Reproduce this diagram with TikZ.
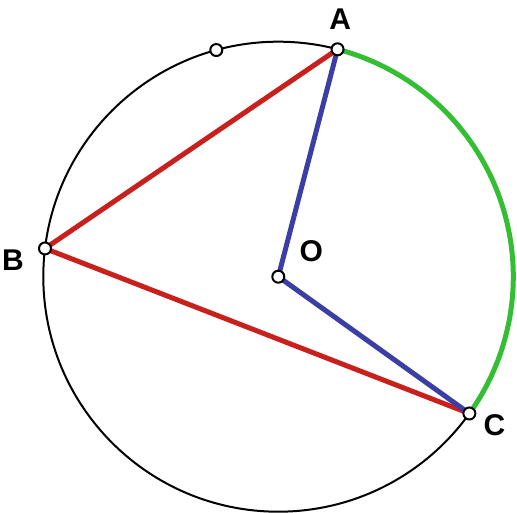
\documentclass[tikz,border=0pt]{standalone}
\usepackage{fontspec}
\setmainfont{Liberation Sans}
\definecolor{chordred}{RGB}{200,32,28}
\definecolor{radblue}{RGB}{58,62,165}
\definecolor{arcgreen}{RGB}{52,190,52}
\begin{document}
\begin{tikzpicture}[x=1pt, y=1pt,
		chord/.style={chordred, line width=5pt},
		radial/.style={radblue, line width=5pt},
		bigarc/.style={arcgreen, line width=5pt},
		dot/.style={circle, draw, fill=white, line width=2pt, inner sep=0pt, minimum size=12pt},
		lbl/.style={inner sep=0pt, font=\fontsize{30}{30}\selectfont\bfseries}]
	\useasboundingbox (0,0) rectangle (517,513);
	\coordinate (O) at (278.3, 236.3);
	\path (O) ++(75.4:235) coordinate (A);
	\path (O) ++(173.1:235) coordinate (B);
	\path (O) ++(-35.6:235) coordinate (C);
	\path (O) ++(105.3:235) coordinate (M);

	\draw[line width=2pt] (O) circle (235);
	\draw[bigarc] (A) arc[start angle=75.4, end angle=-35.6, radius=235];
	\draw[chord] (B) -- (A);
	\draw[chord] (B) -- (C);
	\draw[radial] (O) -- (A);
	\draw[radial] (O) -- (C);

	\node[dot] (dotA) at (A) {};
	\node[dot] (dotB) at (B) {};
	\node[dot] (dotC) at (C) {};
	\node[dot] (dotO) at (O) {};
	\node[dot] (dotM) at (M) {};

	\path (A) ++(2.7, 29.7) node[lbl] (labA) {A};
	\path (B) ++(-32, -11.7) node[lbl] (labB) {B};
	\path (C) ++(25, -12) node[lbl] (labC) {C};
	\path (O) ++(33, 25.7) node[lbl] (labO) {O};
\end{tikzpicture}
\end{document}
